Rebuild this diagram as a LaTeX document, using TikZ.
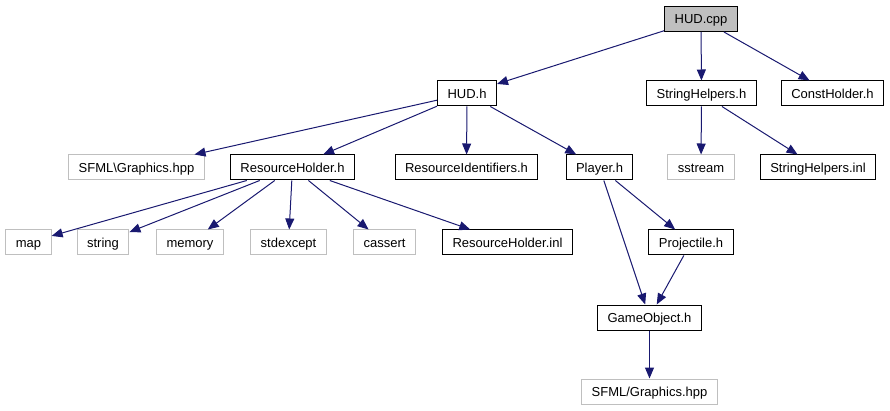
\documentclass[tikz,border=0pt]{standalone}
\usepackage{fontspec}
\setmainfont{Liberation Sans}
\usepackage{xcolor}
\definecolor{EdgeBlue}{HTML}{191970}
\definecolor{ExtGray}{HTML}{BFBFBF}
\usepackage{tikz}
\usetikzlibrary{arrows.meta}

\begin{document}
\begin{tikzpicture}[
  x=1pt, y=-1pt,
  file/.style={rectangle, draw=black, fill=white, line width=1pt,
               minimum height=25pt, inner xsep=10pt, inner ysep=0pt,
               text height=10pt, text depth=0pt,
               font=\fontsize{13}{16}\selectfont, text=black},
  extfile/.style={file, draw=ExtGray},
  rootfile/.style={file, fill=ExtGray},
  inc/.style={-{Triangle[length=11pt, width=9pt]}, line width=1pt, color=EdgeBlue},
]
  \useasboundingbox (0,0) rectangle (890,411);

  % Root
  \node[rootfile] (hudcpp) at (701,19) {HUD.cpp};

  % First level
  \node[file] (hudh) at (467,93.5) {HUD.h};
  \node[file] (strh) at (701.5,93.5) {StringHelpers.h};
  \node[file] (consth) at (832.5,93.5) {ConstHolder.h};

  % Second level
  \node[extfile] (sfmlback) at (136.5,167.5) {SFML\textbackslash Graphics.hpp};
  \node[file] (resh) at (292.5,167.5) {ResourceHolder.h};
  \node[file] (resid) at (466.5,167.5) {ResourceIdentifiers.h};
  \node[file] (player) at (599.5,167.5) {Player.h};
  \node[extfile] (sstream) at (701,167.5) {sstream};
  \node[file] (strinl) at (818,167.5) {StringHelpers.inl};

  % Third level
  \node[extfile] (map) at (28.5,242.5) {map};
  \node[extfile] (string) at (103,242.5) {string};
  \node[extfile] (memory) at (190,242.5) {memory};
  \node[extfile] (stdexcept) at (288.5,242.5) {stdexcept};
  \node[extfile] (cassert) at (384.5,242.5) {cassert};
  \node[file] (resinl) at (507.5,242.5) {ResourceHolder.inl};
  \node[file] (proj) at (691,242.5) {Projectile.h};

  % Bottom
  \node[file] (gameobj) at (649.5,317.5) {GameObject.h};
  \node[extfile] (sfmlfwd) at (649.5,391.5) {SFML/Graphics.hpp};

  % Includes
  \draw[inc] (hudcpp) -- (hudh);
  \draw[inc] (hudcpp) -- (strh);
  \draw[inc] (hudcpp) -- (consth);

  \draw[inc] (hudh) -- (sfmlback);
  \draw[inc] (hudh) -- (resh);
  \draw[inc] (hudh) -- (resid);
  \draw[inc] (hudh) -- (player);

  \draw[inc] (strh) -- (sstream);
  \draw[inc] (strh) -- (strinl);

  \draw[inc] (resh) -- (map);
  \draw[inc] (resh) -- (string);
  \draw[inc] (resh) -- (memory);
  \draw[inc] (resh) -- (stdexcept);
  \draw[inc] (resh) -- (cassert);
  \draw[inc] (resh) -- (resinl);

  \draw[inc] (player) -- (gameobj);
  \draw[inc] (player) -- (proj);
  \draw[inc] (proj) -- (gameobj);

  \draw[inc] (gameobj) -- (sfmlfwd);
\end{tikzpicture}
\end{document}
